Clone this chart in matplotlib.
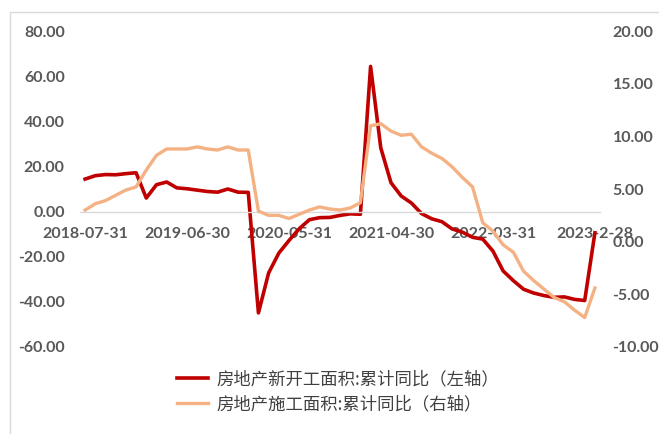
import matplotlib
matplotlib.use('Agg')
import matplotlib.pyplot as plt
from matplotlib.patches import Rectangle

# 月度数据（1月与2月合并公布，故无1月）
months = ['2018-07', '2018-08', '2018-09', '2018-10', '2018-11', '2018-12',
          '2019-02', '2019-03', '2019-04', '2019-05', '2019-06', '2019-07',
          '2019-08', '2019-09', '2019-10', '2019-11', '2019-12',
          '2020-02', '2020-03', '2020-04', '2020-05', '2020-06', '2020-07',
          '2020-08', '2020-09', '2020-10', '2020-11', '2020-12',
          '2021-02', '2021-03', '2021-04', '2021-05', '2021-06', '2021-07',
          '2021-08', '2021-09', '2021-10', '2021-11', '2021-12',
          '2022-02', '2022-03', '2022-04', '2022-05', '2022-06', '2022-07',
          '2022-08', '2022-09', '2022-10', '2022-11', '2022-12',
          '2023-02']

# 房地产新开工面积:累计同比（左轴）
new_starts = [14.4, 15.9, 16.4, 16.3, 16.8, 17.2,
              6.0, 11.9, 13.1, 10.5, 10.1, 9.5, 8.9, 8.6, 10.0, 8.6, 8.5,
              -44.9, -27.2, -18.4, -12.8, -7.6, -3.6, -2.7, -2.6, -1.7, -1.0, -1.2,
              64.3, 28.2, 12.8, 6.9, 3.8, -0.9, -3.2, -4.5, -7.7, -9.1, -11.4,
              -12.2, -17.5, -26.3, -30.6, -34.4, -36.1, -37.2, -38.0, -37.8, -38.9, -39.4,
              -9.4]

# 房地产施工面积:累计同比（右轴）
under_constr = [3.0, 3.6, 3.9, 4.4, 4.9, 5.2,
                6.8, 8.2, 8.8, 8.8, 8.8, 9.0, 8.8, 8.7, 9.0, 8.7, 8.7,
                2.9, 2.5, 2.5, 2.2, 2.6, 3.0, 3.3, 3.1, 3.0, 3.2, 3.7,
                11.0, 11.2, 10.5, 10.1, 10.2, 9.0, 8.4, 7.9, 7.1, 6.1, 5.2,
                1.8, 1.0, -0.3, -1.0, -2.8, -3.7, -4.5, -5.3, -5.7, -6.5, -7.2,
                -4.4]

tick_idx = [0, 10, 20, 30, 40, 50]
tick_labels = ['2018-07-31', '2019-06-30', '2020-05-31', '2021-04-30', '2022-03-31', '2023-2-28']

red = '#C00000'
orange = '#F4B183'
grey = '#595959'

plt.rcParams['font.family'] = ['Lato', 'DejaVu Sans']

fig = plt.figure(figsize=(6.59, 4.34), dpi=100)
ax = fig.add_axes([80 / 659, 1 - 347 / 434, 520 / 659, 316 / 434])
ax2 = ax.twinx()

x = list(range(len(months)))
l1, = ax.plot(x, new_starts, color=red, lw=2.6, solid_joinstyle='round')
l2, = ax2.plot(x, under_constr, color=orange, lw=2.4, solid_joinstyle='round')

ax.set_xlim(-0.5, len(months) - 0.5)
ax.set_ylim(-60, 80)
ax.set_yticks(range(-60, 81, 20))
ax2.set_ylim(-10, 20)
ax2.set_yticks(range(-10, 21, 5))

for a in (ax, ax2):
    for s in a.spines.values():
        s.set_visible(False)
    a.yaxis.set_major_formatter(matplotlib.ticker.FormatStrFormatter('%.2f'))

ax.spines['bottom'].set_visible(True)
ax.spines['bottom'].set_position(('data', 0))
ax.spines['bottom'].set_color('#D9D9D9')
ax.spines['bottom'].set_linewidth(1)

ax.set_xticks(tick_idx)
ax.set_xticklabels(tick_labels)
ax.tick_params(axis='x', length=0, pad=11, labelsize=11.5, labelcolor=grey)
ax.tick_params(axis='y', length=0, pad=11, labelsize=11.5, labelcolor=grey)
ax2.tick_params(axis='y', length=0, pad=9, labelsize=11.5, labelcolor=grey)
for lab in ax.get_xticklabels() + ax.get_yticklabels() + ax2.get_yticklabels():
    lab.set_fontweight('bold')

leg = fig.legend([l1, l2], ['房地产新开工面积:累计同比（左轴）', '房地产施工面积:累计同比（右轴）'],
                 loc='upper left', bbox_to_anchor=(177 / 659, 1 - 370 / 434),
                 frameon=False, borderpad=0, borderaxespad=0,
                 handlelength=1.8, handletextpad=0.45, labelspacing=0.4,
                 prop={'family': ['Noto Sans CJK SC', 'DejaVu Sans'], 'size': 12.5})
for t in leg.get_texts():
    t.set_color('#404040')

# 图表外框
fig.add_artist(Rectangle((10 / 659, -0.2), 1.2, 0.2 + (434 - 12) / 434,
                         transform=fig.transFigure, fill=False,
                         ec='#D9D9D9', lw=1))

fig.savefig('out.png', dpi=100)
